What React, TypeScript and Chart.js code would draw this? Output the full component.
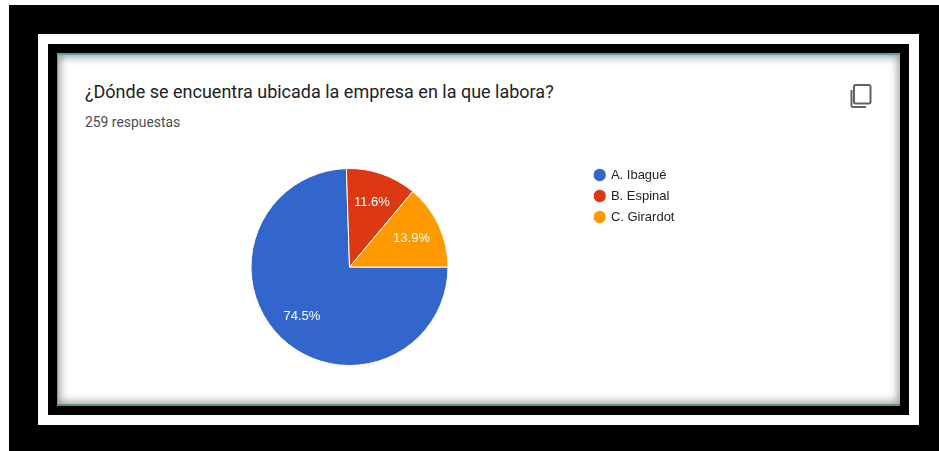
import React, { useEffect, useRef } from "react";
import { Chart, registerables } from "chart.js";

Chart.register(...registerables);

const categories = ["A. Ibagué", "B. Espinal", "C. Girardot"];
const shares = [74.5, 11.6, 13.9];
const sliceColors = ["#3366cc", "#dc3912", "#ff9900"];
const titleText = "¿Dónde se encuentra ubicada la empresa en la que labora?";
const subtitleText = "259 respuestas";

const legendPlacement = {
  id: "legendPlacement",
  afterLayout(chart: any) {
    const l = chart.legend;
    if (!l) return;
    const w = l.width;
    const h = l.height;
    l.left = 587;
    l.right = 587 + w;
    l.top = 160.5;
    l.bottom = 160.5 + h;
    l.adjustHitBoxes && l.adjustHitBoxes();
  },
};

const sliceLabels = {
  id: "sliceLabels",
  afterDatasetsDraw(chart: any) {
    const { ctx } = chart;
    const meta = chart.getDatasetMeta(0);
    ctx.save();
    ctx.fillStyle = "#ffffff";
    ctx.font = '13px "Liberation Sans"';
    ctx.textAlign = "center";
    ctx.textBaseline = "middle";
    meta.data.forEach((arc: any, i: number) => {
      const mid = (arc.startAngle + arc.endAngle) / 2;
      const r = arc.outerRadius * 0.695;
      ctx.fillText(
        shares[i].toFixed(1) + "%",
        arc.x + Math.cos(mid) * r,
        arc.y + Math.sin(mid) * r
      );
    });
    ctx.restore();
  },
};

export default function App() {
  const ref = useRef<HTMLCanvasElement>(null);

  useEffect(() => {
    const chart = new Chart(ref.current!, {
      type: "pie",
      data: {
        labels: categories,
        datasets: [
          {
            data: shares,
            backgroundColor: sliceColors,
            borderColor: "#ffffff",
            borderWidth: 1,
          },
        ],
      },
      plugins: [legendPlacement, sliceLabels],
      options: {
        animation: false,
        responsive: false,
        rotation: 90,
        layout: { padding: { left: 250.5, right: 490.5, top: 168, bottom: 85 } },
        plugins: {
          tooltip: { enabled: false },
          title: { display: false },
          legend: {
            position: "chartArea",
            align: "start",
            labels: {
              usePointStyle: true,
              pointStyle: "circle",
              boxWidth: 9.4,
              boxHeight: 9.4,
              padding: 8,
              color: "#222222",
              font: { family: '"Liberation Sans"', size: 13 },
            },
          },
        },
      },
    } as any);
    return () => chart.destroy();
  }, []);

  const box = (l: number, t: number, r: number, b: number, bg: string, extra: any = {}) => (
    <div
      style={{
        position: "absolute",
        left: l,
        top: t,
        width: r - l,
        height: b - t,
        background: bg,
        ...extra,
      }}
    />
  );

  return (
    <div style={{ position: "fixed", left: 0, top: 0, width: 939, height: 451, background: "#fff", overflow: "hidden" }}>
      {box(9, 5, 939, 451, "#000")}
      {box(38, 34, 919, 425, "#fff")}
      {box(48, 44, 909, 415, "#000")}
      {box(57, 53, 900, 406, "#fff", {
        borderTop: "2px solid #5f9ea0",
        borderLeft: "1px solid #5f9ea0",
        borderBottom: "2px solid #5f8f90",
        boxSizing: "border-box",
        boxShadow: "inset 0 0 8px 2px #999999",
      })}
      <div
        style={{
          position: "absolute",
          left: 85,
          top: 81,
          font: '18px Roboto',
          color: "#202124",
          whiteSpace: "nowrap",
          lineHeight: "22px",
        }}
      >
        {titleText}
      </div>
      <div
        style={{
          position: "absolute",
          left: 85,
          top: 114,
          font: '13.9px Roboto',
          color: "#4a4d51",
          whiteSpace: "nowrap",
          lineHeight: "16px",
        }}
      >
        {subtitleText}
      </div>
      <svg
        style={{ position: "absolute", left: 849, top: 83 }}
        width={24}
        height={27}
        viewBox="0 0 24 27"
        fill="none"
        stroke="#5f6368"
        strokeWidth={2}
      >
        <rect x={5} y={2} width={16.5} height={18.5} rx={1.5} />
        <path d="M2.5 7 V22.5 a1.5 1.5 0 0 0 1.5 1.5 H17" />
      </svg>
      <canvas
        ref={ref}
        width={939}
        height={451}
        style={{ position: "absolute", left: 0, top: 0, display: "block" }}
      />
    </div>
  );
}
